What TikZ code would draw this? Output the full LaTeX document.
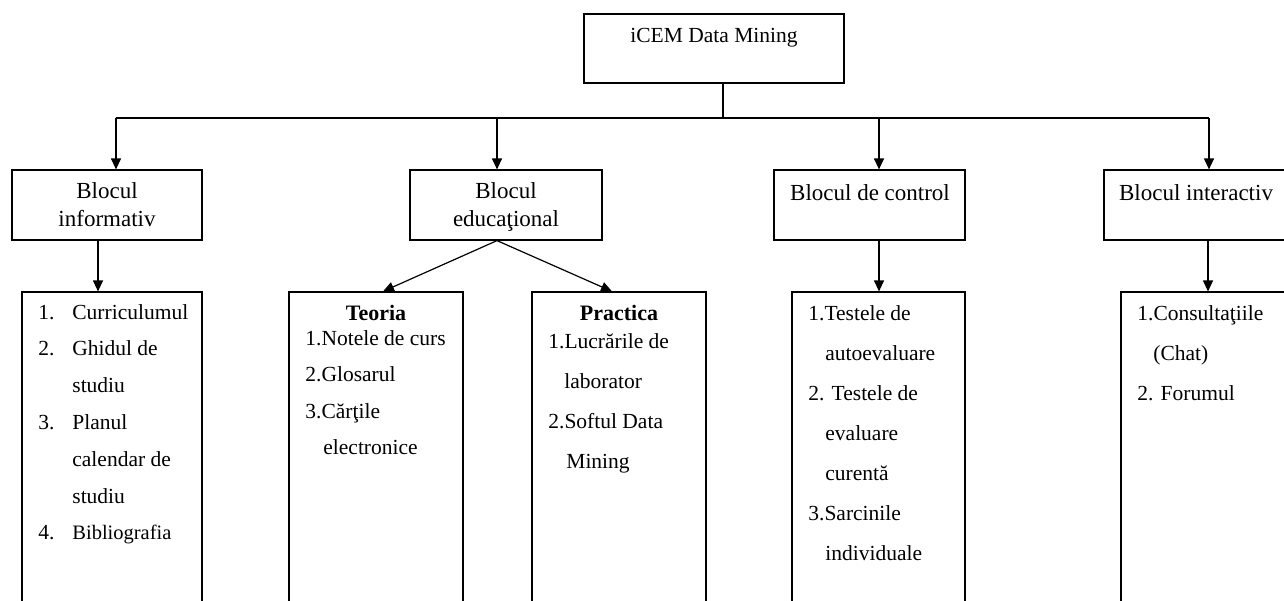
\documentclass[tikz,border=0pt]{standalone}
\usepackage{fontspec}
\setmainfont{Liberation Serif}
\usetikzlibrary{arrows.meta}

\newcommand{\nr}[1]{\makebox[17pt][l]{#1}}

\tikzset{
    box/.style={draw, line width=0.6pt, inner sep=0pt},
    arr/.style={line width=0.6pt, -{Triangle[length=5.5pt,width=5pt]}},
    head/.style={inner sep=0pt, anchor=base, font=\fontsize{11.5}{14}\selectfont},
    items/.style={inner sep=0pt, anchor=base west}
}

\begin{document}
\begin{tikzpicture}[x=0.5pt, y=-0.5pt]
    \useasboundingbox (0,0) rectangle (1284,600);
    \clip (0,0) rectangle (1284,600);

    \node[box, minimum width=130pt, minimum height=34.5pt] (top) at (714,48.5) {};
    \node[box, minimum width=95pt, minimum height=35pt] (info) at (107,205) {};
    \node[box, minimum width=96pt, minimum height=35pt] (educ) at (506,205) {};
    \node[box, minimum width=95.5pt, minimum height=35pt] (ctrl) at (869.5,205) {};
    \node[box, minimum width=92pt, minimum height=35pt] (inter) at (1196,205) {};

    \node[box, minimum width=90pt, minimum height=164pt] (infolist) at (112,456) {};
    \node[box, minimum width=87pt, minimum height=164pt] (teoria) at (376,456) {};
    \node[box, minimum width=87pt, minimum height=164pt] (practica) at (619,456) {};
    \node[box, minimum width=86.5pt, minimum height=164pt] (ctrllist) at (878.5,456) {};
    \node[box, minimum width=87pt, minimum height=164pt] (interlist) at (1208,456) {};

    \node[head, font=\fontsize{10.75}{13}\selectfont] (toptxt) at (714,42) {iCEM Data Mining};
    \node[head] (infotxt) at (107,198) {\begin{tabular}[t]{@{}c@{}}Blocul\\informativ\end{tabular}};
    \node[head] (eductxt) at (506,198) {\begin{tabular}[t]{@{}c@{}}Blocul\\educaţional\end{tabular}};
    \node[head] (ctrltxt) at (870,200) {Blocul de control};
    \node[head] (intertxt) at (1196,200) {Blocul interactiv};

    \node[items, font=\fontsize{10.75}{18.4}\selectfont] (infoitems) at (38,319) {\begin{tabular}[t]{@{}l@{}}
        \nr{1.}Curriculumul\\
        \nr{2.}Ghidul de\\
        \hspace*{17pt}studiu\\
        \nr{3.}Planul\\
        \hspace*{17pt}calendar de\\
        \hspace*{17pt}studiu\\
        \nr{4.}{\fontsize{10.25}{18.4}\selectfont Bibliografia}
    \end{tabular}};

    \node[head, font=\fontsize{11}{14}\selectfont\bfseries] (teoriatxt) at (376,320) {Teoria};
    \node[items, font=\fontsize{10.75}{18.3}\selectfont] (teoriaitems) at (305,345) {\begin{tabular}[t]{@{}l@{}}
        1.Notele de curs\\
        2.Glosarul\\
        3.Cărţile\\
        \hspace*{9pt}electronice
    \end{tabular}};

    \node[head, font=\fontsize{11}{14}\selectfont\bfseries] (practicatxt) at (619,320) {Practica};
    \node[items, font=\fontsize{10.75}{20}\selectfont] (practicaitems) at (548,348) {\begin{tabular}[t]{@{}l@{}}
        1.Lucrările de\\
        \hspace*{8pt}laborator\\
        2.Softul Data\\
        \hspace*{9pt}Mining
    \end{tabular}};

    \node[items, font=\fontsize{10.75}{20}\selectfont] (ctrlitems) at (808,320) {\begin{tabular}[t]{@{}l@{}}
        1.Testele de\\
        \hspace*{8.5pt}autoevaluare\\
        2. Testele de\\
        \hspace*{8.5pt}evaluare\\
        \hspace*{8.5pt}curentă\\
        3.Sarcinile\\
        \hspace*{8.5pt}individuale
    \end{tabular}};

    \node[items, font=\fontsize{10.75}{20}\selectfont] (interitems) at (1137,320) {\begin{tabular}[t]{@{}l@{}}
        1.Consultaţiile\\
        \hspace*{8pt}(Chat)\\
        2. Forumul
    \end{tabular}};

    \coordinate (tj) at (723,118);
    \coordinate (j1) at (116,118);
    \coordinate (j2) at (497,118);
    \coordinate (j3) at (879,118);
    \coordinate (j4) at (1209,118);

    \draw[line width=0.6pt] (top.south -| tj) -- (tj);
    \draw[line width=0.6pt] (j1) -- (j4);
    \draw[arr] (j1) -- (j1 |- info.north);
    \draw[arr] (j2) -- (j2 |- educ.north);
    \draw[arr] (j3) -- (j3 |- ctrl.north);
    \draw[arr] (j4) -- (j4 |- inter.north);

    \draw[arr] ([xshift=-4.5pt]info.south) -- ([xshift=-4.5pt]info.south |- infolist.north);
    \draw[arr] ([xshift=-4.5pt]educ.south) -- ([xshift=3.5pt]teoria.north);
    \draw[arr] ([xshift=-4.5pt]educ.south) -- ([xshift=-3.5pt]practica.north);
    \draw[arr] (j3 |- ctrl.south) -- (j3 |- ctrllist.north);
    \draw[arr] (interlist.north |- inter.south) -- (interlist.north);
\end{tikzpicture}
\end{document}
